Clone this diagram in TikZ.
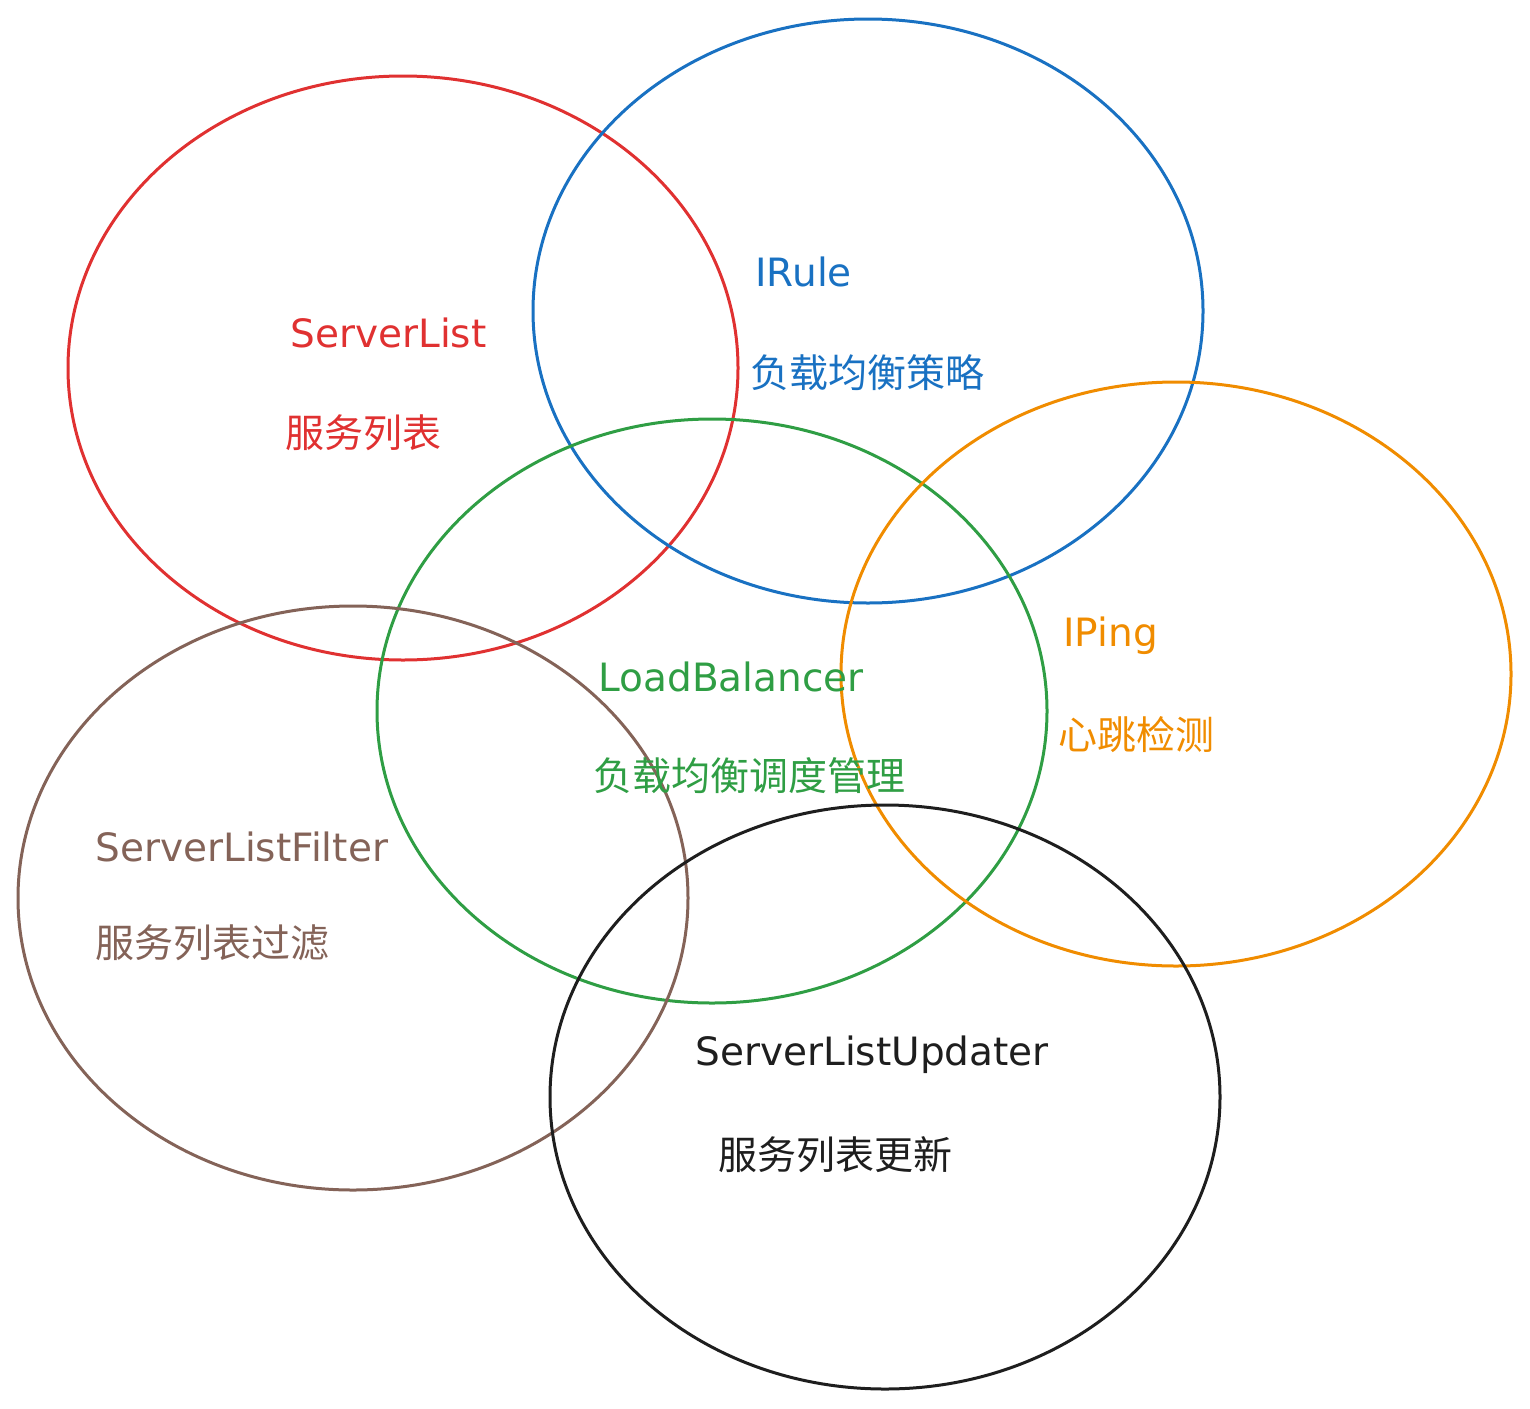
\documentclass[tikz,border=0pt]{standalone}
\usepackage{fontspec}
\setmainfont{DejaVu Sans}
\newfontfamily\cjkfont{Noto Sans CJK SC}
\usetikzlibrary{shapes.geometric}
\definecolor{exred}{HTML}{E03131}
\definecolor{exblue}{HTML}{1971C2}
\definecolor{exgreen}{HTML}{2F9E44}
\definecolor{exorange}{HTML}{F08C00}
\definecolor{exbrown}{HTML}{846358}
\definecolor{exblack}{HTML}{1E1E1E}
\tikzset{
  ring/.style={draw=#1, line width=1.5pt, ellipse, minimum width=335pt, minimum height=292pt, inner sep=0pt},
  ringtitle/.style={text=#1, anchor=west, inner sep=0pt, font=\fontsize{19.5}{22}\selectfont},
  ringdesc/.style={text=#1, anchor=west, inner sep=0pt, font=\cjkfont\fontsize{19.5}{22}\selectfont}
}
\begin{document}
\begin{tikzpicture}[x=0.5pt,y=-0.5pt]
	\useasboundingbox (0,0) rectangle (1530,1408);
	% the six rings
	\foreach \nm/\cx/\cy/\col in {list/403/368/exred, rule/868/311/exblue, lb/712/711/exgreen,
	  ping/1176/674/exorange, filter/353/898/exbrown, updater/885/1097/exblack}
	  {\node[ring=\col] (\nm) at (\cx,\cy) {};}
	% labels
	\node[ringtitle=exred] (listT) at (290,333) {ServerList};
	\node[ringdesc=exred] (listD) at (285,433) {服务列表};
	\node[ringtitle=exblue] (ruleT) at (755,272) {IRule};
	\node[ringdesc=exblue] (ruleD) at (750,373) {负载均衡策略};
	\node[ringtitle=exgreen] (lbT) at (598,677) {LoadBalancer};
	\node[ringdesc=exgreen] (lbD) at (593,776) {负载均衡调度管理};
	\node[ringtitle=exorange] (pingT) at (1063,636) {IPing};
	\node[ringdesc=exorange] (pingD) at (1058,735) {心跳检测};
	\node[ringtitle=exbrown] (filterT) at (95,847) {ServerListFilter};
	\node[ringdesc=exbrown] (filterD) at (95,943) {服务列表过滤};
	\node[ringtitle=exblack] (updaterT) at (695,1055) {ServerListUpdater};
	\node[ringdesc=exblack] (updaterD) at (718,1155) {服务列表更新};
\end{tikzpicture}
\end{document}
